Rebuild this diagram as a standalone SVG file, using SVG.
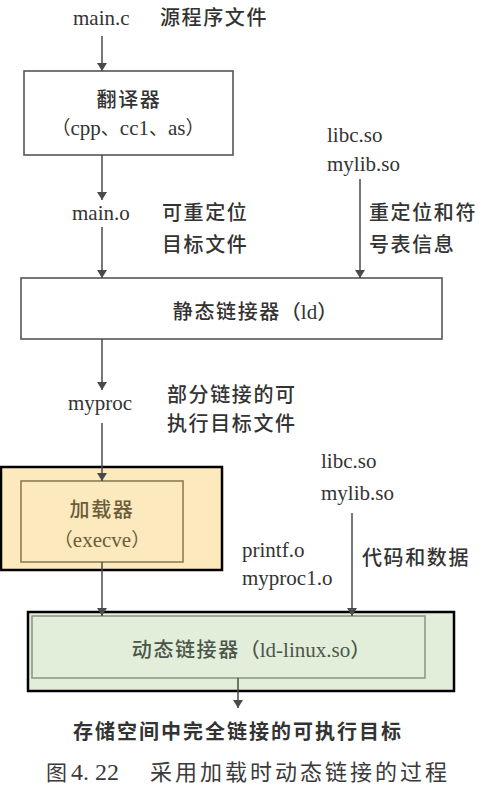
<svg xmlns="http://www.w3.org/2000/svg" width="494" height="796" viewBox="0 0 494 796">
<defs>
<marker id="ah" viewBox="0 0 8 12" refX="8" refY="6" markerWidth="8" markerHeight="12" markerUnits="userSpaceOnUse" orient="auto">
<path d="M0,1 L8,6 L0,11 Z" fill="#4a4a4a"/>
</marker>
<style>
.cjk{font-family:"Noto Sans CJK SC","Noto Sans",sans-serif;font-size:20px;letter-spacing:1.6px;fill:#333;font-weight:500}
.lat{font-family:"Liberation Serif","Times New Roman",serif;font-size:21px;fill:#333}
.box{fill:#fff;stroke:#555;stroke-width:1.6}
.edge{stroke:#4a4a4a;stroke-width:1.5;fill:none;marker-end:url(#ah)}
</style>
</defs>
<rect width="494" height="796" fill="#fff"/>

<g id="labels">
<text class="lat" x="73" y="25">main.c</text>
<text class="cjk" x="160" y="25">源程序文件</text>
<text class="lat" x="72" y="220">main.o</text>
<text class="cjk" x="162" y="220">可重定位</text>
<text class="cjk" x="162" y="252">目标文件</text>
<text class="lat" x="327" y="142">libc.so</text>
<text class="lat" x="327" y="171">mylib.so</text>
<text class="cjk" x="369" y="220">重定位和符</text>
<text class="cjk" x="369" y="252">号表信息</text>
<text class="lat" x="68" y="410">myproc</text>
<text class="cjk" x="167" y="402">部分链接的可</text>
<text class="cjk" x="167" y="431">执行目标文件</text>
<text class="lat" x="321" y="468">libc.so</text>
<text class="lat" x="321" y="500">mylib.so</text>
<text class="lat" x="242" y="557">printf.o</text>
<text class="lat" x="242" y="585">myproc1.o</text>
<text class="cjk" x="362" y="565">代码和数据</text>
<text class="cjk" x="73" y="739" style="font-weight:700;font-size:20px;letter-spacing:2px">存储空间中完全链接的可执行目标</text>
<text x="46" y="780" style="font-family:'Noto Sans CJK SC',sans-serif;font-size:21px;fill:#3a3a3a"><tspan>图</tspan><tspan x="71" style="font-family:'Liberation Serif',serif;font-size:24px">4. 22</tspan><tspan x="150" style="font-size:22px;letter-spacing:3px">采用加载时动态链接的过程</tspan></text>
</g>

<g id="translator">
<rect class="box" x="24" y="71" width="209" height="84"/>
<text class="cjk" x="129" y="107" text-anchor="middle">翻译器</text>
<text x="128" y="135" text-anchor="middle" style="font-family:'Liberation Serif','Noto Sans CJK SC',serif;font-size:21px;fill:#333"><tspan style="font-family:'Noto Sans CJK SC',sans-serif;font-size:19px">（</tspan>cpp<tspan style="font-family:'Noto Sans CJK SC',sans-serif;font-size:19px">、</tspan>cc1<tspan style="font-family:'Noto Sans CJK SC',sans-serif;font-size:19px">、</tspan>as<tspan style="font-family:'Noto Sans CJK SC',sans-serif;font-size:19px">）</tspan></text>
</g>

<g id="static-linker">
<rect class="box" x="21" y="278" width="421" height="61"/>
<text x="255" y="319" text-anchor="middle" class="cjk">静态链接器<tspan style="letter-spacing:0">（</tspan><tspan style="font-family:'Liberation Serif',serif;font-size:21px;letter-spacing:0">ld</tspan><tspan style="letter-spacing:0">）</tspan></text>
</g>

<g id="loader">
<rect x="1" y="467" width="221" height="103" fill="#FCE9BD" stroke="#000" stroke-width="2.5"/>
<rect x="21" y="481" width="162" height="81" fill="none" stroke="#8c7d55" stroke-width="1.6"/>
<text class="cjk" x="102" y="517" text-anchor="middle" style="fill:#6b5c3a">加载器</text>
<text x="102" y="547" text-anchor="middle" style="font-family:'Liberation Serif',serif;font-size:21px;fill:#6b5c3a"><tspan style="font-family:'Noto Sans CJK SC',sans-serif;font-size:19px">（</tspan>execve<tspan style="font-family:'Noto Sans CJK SC',sans-serif;font-size:19px">）</tspan></text>
</g>

<g id="dynamic-linker">
<rect x="28" y="612" width="426" height="79" fill="#E3EEDA" stroke="#000" stroke-width="2.5"/>
<rect x="32" y="616" width="393" height="62" fill="none" stroke="#8a9a86" stroke-width="1.6"/>
<text x="251" y="657" text-anchor="middle" class="cjk" style="fill:#4a564a">动态链接器<tspan style="letter-spacing:0">（</tspan><tspan style="font-family:'Liberation Serif',serif;font-size:21px;letter-spacing:0">ld-linux.so</tspan><tspan style="letter-spacing:0">）</tspan></text>
</g>

<g id="connectors">
<line class="edge" x1="102" y1="36" x2="102" y2="71"/>
<line class="edge" x1="102" y1="155" x2="102" y2="200"/>
<line class="edge" x1="102" y1="227" x2="102" y2="278"/>
<line class="edge" x1="360" y1="179" x2="360" y2="278"/>
<line class="edge" x1="102" y1="339" x2="102" y2="390"/>
<line class="edge" x1="102" y1="423" x2="102" y2="481"/>
<line class="edge" x1="352" y1="513" x2="352" y2="616"/>
<line class="edge" x1="102" y1="562" x2="102" y2="616"/>
<line class="edge" x1="238" y1="678" x2="238" y2="708"/>
</g>
</svg>
